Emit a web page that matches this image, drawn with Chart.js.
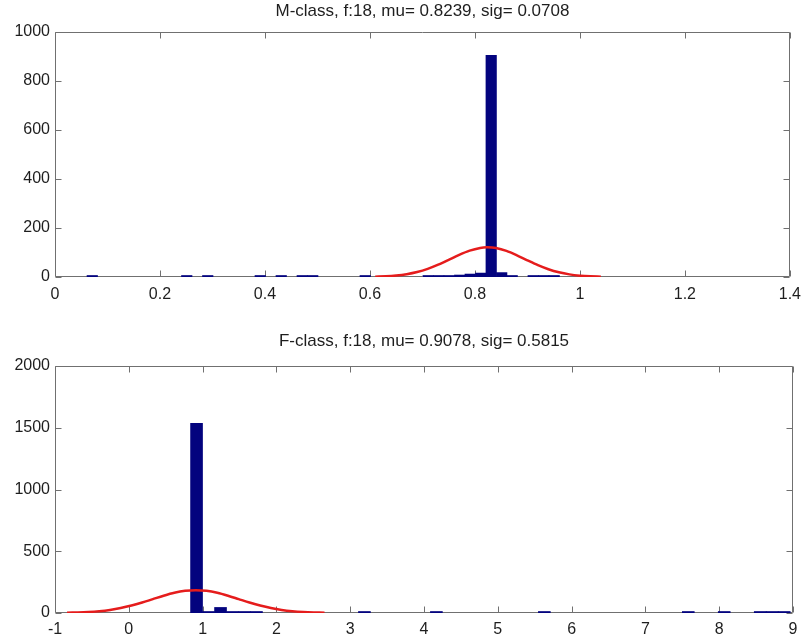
<!DOCTYPE html>
<html>
<head>
<meta charset="utf-8">
<script src="https://cdn.jsdelivr.net/npm/chart.js@4/dist/chart.umd.min.js"></script>
<style>
  html, body { margin: 0; padding: 0; background: #ffffff; }
  .wrap { position: absolute; left: 0; width: 809px; height: 319px; }
</style>
</head>
<body>
<div class="wrap" style="top:0px"><canvas id="c1" width="809" height="319"></canvas></div>
<div class="wrap" style="top:319px"><canvas id="c2" width="809" height="319"></canvas></div>
<script>
// ---------- data: M-class ----------
const mTitle = 'M-class, f:18, mu= 0.8239, sig= 0.0708';
const mBinCenters = [0.071, 0.251, 0.291, 0.391, 0.431, 0.471, 0.491, 0.591, 0.711, 0.731, 0.751, 0.771, 0.791, 0.811, 0.831, 0.851, 0.871, 0.911, 0.931, 0.951];
const mCounts     = [2, 2, 2, 6, 2, 2, 2, 2, 4, 5, 6, 8, 12, 16, 905, 18, 6, 2, 2, 2];
const mFitX = [0.61, 0.63, 0.65, 0.67, 0.69, 0.71, 0.73, 0.75, 0.77, 0.79, 0.81, 0.824, 0.84, 0.86, 0.88, 0.90, 0.92, 0.94, 0.96, 0.98, 1.00, 1.02, 1.04];
const mFitY = [1.3, 2.8, 5.9, 11.4, 20.2, 33.1, 50.1, 70.1, 90.5, 107.8, 118.7, 121, 118, 106.4, 88.5, 68, 48.3, 31.6, 19.1, 10.7, 5.5, 2.6, 1.2];
const mXTicks = [0, 0.2, 0.4, 0.6, 0.8, 1, 1.2, 1.4];
const mXLabels = ['0', '0.2', '0.4', '0.6', '0.8', '1', '1.2', '1.4'];
const mYTicks = [0, 200, 400, 600, 800, 1000];
const mYLabels = ['0', '200', '400', '600', '800', '1000'];

// ---------- data: F-class ----------
const fTitle = 'F-class, f:18, mu= 0.9078, sig= 0.5815';
const fBinCenters = [0.918, 1.080, 1.243, 1.405, 1.568, 1.730, 3.193, 4.168, 5.631, 7.581, 8.068, 8.556, 8.718, 8.881];
const fCounts     = [1535, 8, 45, 8, 4, 3, 2, 2, 2, 2, 2, 2, 2, 2];
const fFitX = [-0.837, -0.691, -0.546, -0.401, -0.255, -0.110, 0.036, 0.181, 0.326, 0.472, 0.617, 0.763, 0.908, 1.053, 1.199, 1.344, 1.489, 1.635, 1.780, 1.926, 2.071, 2.216, 2.362, 2.507, 2.652];
const fFitY = [2.1, 4.2, 8.1, 14.7, 25.0, 40.0, 60.1, 84.7, 112.2, 139.6, 163.3, 179.3, 185, 179.3, 163.3, 139.6, 112.2, 84.7, 60.1, 40.0, 25.0, 14.7, 8.1, 4.2, 2.1];
const fXTicks = [-1, 0, 1, 2, 3, 4, 5, 6, 7, 8, 9];
const fXLabels = ['-1', '0', '1', '2', '3', '4', '5', '6', '7', '8', '9'];
const fYTicks = [0, 500, 1000, 1500, 2000];
const fYLabels = ['0', '500', '1000', '1500', '2000'];

const FONT = "'Liberation Sans', Arial, Helvetica, sans-serif";
const TEXT = '#1e1e1e';
const AXIS = '#707070';
const BAR = '#03037e';
const RED = '#e51c1c';

const framePlugin = {
  id: 'frame',
  beforeDatasetsDraw(chart) {
    const { ctx, chartArea: a, scales: { x, y } } = chart;
    ctx.save();
    ctx.strokeStyle = AXIS;
    ctx.lineWidth = 1;
    ctx.beginPath();
    const L = Math.round(a.left) + 0.5, R = Math.round(a.right) - 0.5;
    const T = Math.round(a.top) + 0.5, B = Math.round(a.bottom) - 0.5;
    ctx.rect(L, T, R - L, B - T);
    const len = 6;
    x.ticks.forEach(t => {
      const px = Math.round(x.getPixelForValue(t.value)) + 0.5;
      ctx.moveTo(px, B); ctx.lineTo(px, B - len);
      ctx.moveTo(px, T); ctx.lineTo(px, T + len);
    });
    y.ticks.forEach(t => {
      const py = Math.round(y.getPixelForValue(t.value)) + 0.5;
      ctx.moveTo(L, py); ctx.lineTo(L + len, py);
      ctx.moveTo(R, py); ctx.lineTo(R - len, py);
    });
    ctx.stroke();
    ctx.restore();
  }
};

function makeChart(id, o) {
  const barData = o.centers.map((c, i) => ({ x: c, y: o.counts[i] }));
  const lineData = o.fitX.map((c, i) => ({ x: c, y: o.fitY[i] }));
  return new Chart(document.getElementById(id), {
    type: 'bar',
    data: {
      datasets: [
        {
          type: 'line', data: lineData, order: 0,
          borderColor: RED, borderWidth: 2.5, pointRadius: 0,
          tension: 0.3, fill: false
        },
        {
          type: 'bar', data: barData, order: 1,
          backgroundColor: BAR, borderWidth: 0,
          barPercentage: 1, categoryPercentage: 1, minBarLength: 1.5
        }
      ]
    },
    options: {
      responsive: false,
      animation: false,
      devicePixelRatio: 1,
      layout: { padding: { left: 0, right: 16, top: 0, bottom: 0 } },
      plugins: {
        legend: { display: false },
        tooltip: { enabled: false },
        title: {
          display: true, text: o.title, color: TEXT, fullSize: false,
          font: { family: FONT, size: 17, weight: 'normal', lineHeight: 1.2 },
          padding: { top: o.titleTop, bottom: o.titleBottom }
        }
      },
      scales: {
        x: {
          type: 'linear', min: o.xTicks[0], max: o.xTicks[o.xTicks.length - 1],
          offset: false,
          grid: { display: false, drawTicks: false },
          border: { display: false },
          afterBuildTicks: s => { s.ticks = o.xTicks.map(v => ({ value: v })); },
          afterFit: s => { s.height = o.xHeight; },
          ticks: {
            color: TEXT, padding: o.xPad, maxRotation: 0, autoSkip: false,
            font: { family: FONT, size: 16 },
            callback: (v) => { const i = o.xTicks.indexOf(v); return i >= 0 ? o.xLabels[i] : ''; }
          }
        },
        y: {
          type: 'linear', min: 0, max: o.yTicks[o.yTicks.length - 1],
          grid: { display: false, drawTicks: false },
          border: { display: false },
          afterBuildTicks: s => { s.ticks = o.yTicks.map(v => ({ value: v })); },
          afterFit: s => { s.width = 55; },
          ticks: {
            color: TEXT, padding: 5, autoSkip: false,
            font: { family: FONT, size: 16 },
            callback: (v) => { const i = o.yTicks.indexOf(v); return i >= 0 ? o.yLabels[i] : ''; }
          }
        }
      }
    },
    plugins: [framePlugin]
  });
}

makeChart('c1', {
  title: mTitle, centers: mBinCenters, counts: mCounts, fitX: mFitX, fitY: mFitY,
  xTicks: mXTicks, xLabels: mXLabels, yTicks: mYTicks, yLabels: mYLabels,
  titleTop: 1, titleBottom: 10.6, xHeight: 42, xPad: 8
});
makeChart('c2', {
  title: fTitle, centers: fBinCenters, counts: fCounts, fitX: fFitX, fitY: fFitY,
  xTicks: fXTicks, xLabels: fXLabels, yTicks: fYTicks, yLabels: fYLabels,
  titleTop: 11.8, titleBottom: 14.8, xHeight: 25, xPad: 7
});
</script>
</body>
</html>
